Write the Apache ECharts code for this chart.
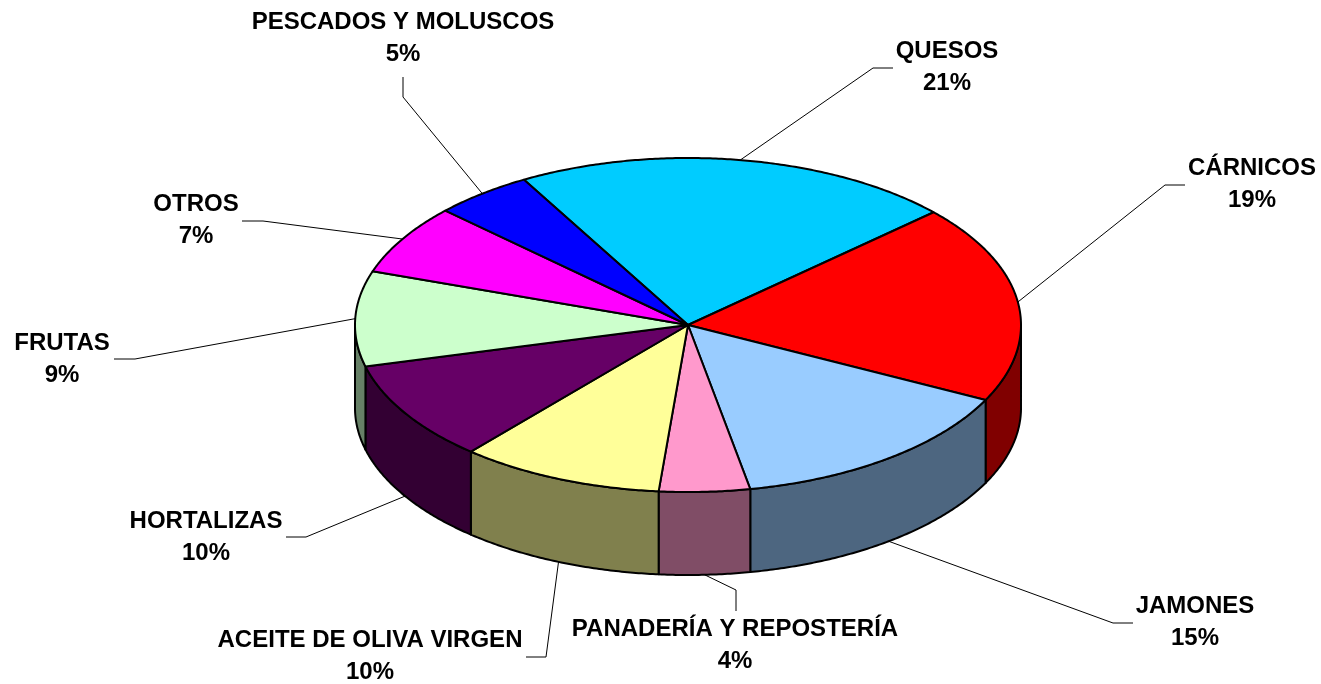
<!DOCTYPE html>
<html>
<head>
<meta charset="utf-8">
<script src="https://cdn.jsdelivr.net/npm/echarts@6/dist/echarts.min.js"></script>
<style>html,body{margin:0;padding:0;background:#fff;}#c{width:1321px;height:684px;}</style>
</head>
<body>
<div id="c"></div>
<script>
// ---- data ----
const categories = ['QUESOS', 'CÁRNICOS', 'JAMONES', 'PANADERÍA Y REPOSTERÍA', 'ACEITE DE OLIVA VIRGEN',
  'HORTALIZAS', 'FRUTAS', 'OTROS', 'PESCADOS Y MOLUSCOS'];
const values = [21.4, 19.2, 14.6, 4.4, 9.9, 9.7, 9.2, 6.8, 4.8];
const topColors = ['#00CCFF', '#FF0000', '#99CCFF', '#FF99CC', '#FFFF99', '#660066', '#CCFFCC', '#FF00FF', '#0000FF'];
const sideColors = ['#006680', '#800000', '#4D6680', '#804D66', '#80804D', '#330033', '#668066', '#800080', '#000080'];

// ---- layout (not data) ----
const CX = 688, CY = 325, RX = 333, RY = 167, DEPTH = 83, START = 330.5;
// label: [centerX, first-line baseline], leader elbow, leader end
const labelLayout = [
  { c: [947, 60], elbow: [873, 68], end: [893, 68] },
  { c: [1252, 177], elbow: [1165, 185], end: [1185, 185] },
  { c: [1195, 615], elbow: [1113, 623], end: [1133, 623] },
  { c: [735, 638], elbow: [736, 590], end: [736, 611] },
  { c: [370, 649], elbow: [546, 657], end: [526, 657] },
  { c: [206, 530], elbow: [306, 537], end: [286, 537] },
  { c: [62, 352], elbow: [135, 359], end: [114, 359] },
  { c: [196, 213], elbow: [263, 221], end: [242, 221] },
  { c: [403, 31], elbow: [403, 97], end: [403, 77] }
];
const FONT = 'bold 24px "Liberation Sans", Arial, sans-serif';
const LINE_GAP = 32;

const total = values.reduce((a, b) => a + b, 0);
const starts = [];
(function () { let acc = START; values.forEach(v => { starts.push(acc); acc += v / total * 360; }); })();

function pt(theta, dy) {
  const r = theta * Math.PI / 180;
  return [CX + RX * Math.sin(r), CY - RY * Math.cos(r) + (dy || 0)];
}
function arc(a, b, dy) {
  const pts = [];
  const n = Math.max(2, Math.ceil(Math.abs(b - a) / 0.5));
  for (let i = 0; i <= n; i++) pts.push(pt(a + (b - a) * i / n, dy));
  return pts;
}

function renderItem(params, api) {
  const i = params.dataIndex;
  const v = api.value(0);
  const a1 = starts[i];
  const a2 = a1 + v / total * 360;
  const children = [];
  [[90, 270], [450, 630]].forEach(([f1, f2]) => {
    const s = Math.max(a1, f1), e = Math.min(a2, f2);
    if (e > s) {
      const pts = arc(s, e, 0).concat(arc(e, s, DEPTH));
      children.push({
        type: 'polygon', shape: { points: pts },
        style: { fill: sideColors[i], stroke: '#000', lineWidth: 2, lineJoin: 'round' }
      });
    }
  });
  children.push({
    type: 'polygon', shape: { points: [[CX, CY]].concat(arc(a1, a2, 0)) },
    style: { fill: topColors[i], stroke: '#000', lineWidth: 2, lineJoin: 'round' }
  });
  const mid = (a1 + a2) / 2;
  const m = ((mid % 360) + 360) % 360;
  const front = m > 95 && m < 265;
  const sp = pt(mid, front ? DEPTH : 0);
  const L = labelLayout[i];
  children.push({
    type: 'polyline', shape: { points: [sp, L.elbow, L.end] },
    style: { stroke: '#000', lineWidth: 1, fill: null }
  });
  children.push({
    type: 'text', x: L.c[0], y: L.c[1] - 8.5,
    style: { text: categories[i], font: FONT, fill: '#000', align: 'center', verticalAlign: 'middle' }
  });
  children.push({
    type: 'text', x: L.c[0], y: L.c[1] + LINE_GAP - 8.5,
    style: { text: Math.round(v / total * 100) + '%', font: FONT, fill: '#000', align: 'center', verticalAlign: 'middle' }
  });
  return { type: 'group', children };
}

const chart = echarts.init(document.getElementById('c'), null, { renderer: 'canvas' });
chart.setOption({
  animation: false,
  backgroundColor: '#ffffff',
  series: [{
    type: 'custom',
    coordinateSystem: 'none',
    renderItem: renderItem,
    data: values.map(v => [v])
  }]
});
</script>
</body>
</html>
